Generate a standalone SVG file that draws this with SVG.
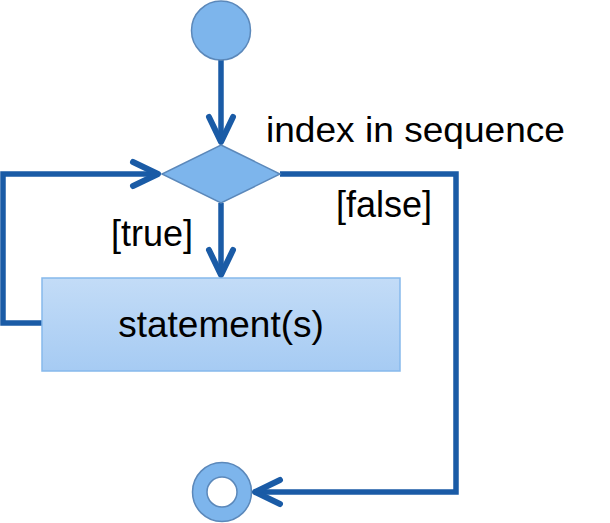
<svg xmlns="http://www.w3.org/2000/svg" width="610" height="523" viewBox="0 0 610 523">
  <style>
    .node { fill: #7db5ec; stroke: #5b88ba; stroke-width: 1.5; }
    .flow { fill: none; stroke: #1a5ba6; stroke-width: 5.5; stroke-linejoin: miter; }
    .label { font-family: "Liberation Sans", Arial, sans-serif; fill: #000; }
  </style>
  <defs>
    <linearGradient id="boxFill" x1="0" y1="0" x2="0" y2="1">
      <stop offset="0" stop-color="#c3dcf7"/>
      <stop offset="1" stop-color="#a6cbf3"/>
    </linearGradient>
    <marker id="chevron" markerUnits="userSpaceOnUse" viewBox="-32 -18 40 36" markerWidth="40" markerHeight="36" refX="-3" refY="0" orient="auto" overflow="visible">
      <path d="M-25,-12 L0,0 L-25,12" fill="none" stroke="#1a5ba6" stroke-width="6" stroke-linecap="round" stroke-linejoin="round"/>
    </marker>
  </defs>

  <!-- connectors -->
  <g id="connectors">
    <path class="flow" d="M221,60 L221,139" marker-end="url(#chevron)"/>
    <path class="flow" d="M221,203 L221,272" marker-end="url(#chevron)"/>
    <path class="flow" d="M42,323 L3,323 L3,174 L155,174" marker-end="url(#chevron)"/>
    <path class="flow" d="M280,174 L456,174 L456,492 L258,492" marker-end="url(#chevron)"/>
  </g>

  <!-- start -->
  <g id="start">
    <circle class="node" cx="221" cy="30.5" r="29.5"/>
  </g>

  <!-- decision -->
  <g id="decision">
    <path class="node" d="M221,145 L280,174 L221,203 L162,174 Z"/>
    <text class="label" x="266" y="142" font-size="35" textLength="299" lengthAdjust="spacingAndGlyphs">index in sequence</text>
  </g>

  <!-- guards -->
  <g id="guards">
    <text class="label" x="111" y="246" font-size="36">[true]</text>
    <text class="label" x="336" y="217" font-size="36">[false]</text>
  </g>

  <!-- action -->
  <g id="statements">
    <rect x="42" y="278" width="358" height="93" fill="url(#boxFill)" stroke="#86b9ec" stroke-width="1.5"/>
    <text class="label" x="221" y="337" font-size="37" text-anchor="middle">statement(s)</text>
  </g>

  <!-- end -->
  <g id="end">
    <circle class="node" cx="222" cy="492" r="29.5"/>
    <circle cx="222" cy="492" r="15" fill="#fff" stroke="#5b88ba" stroke-width="1.5"/>
  </g>
</svg>
